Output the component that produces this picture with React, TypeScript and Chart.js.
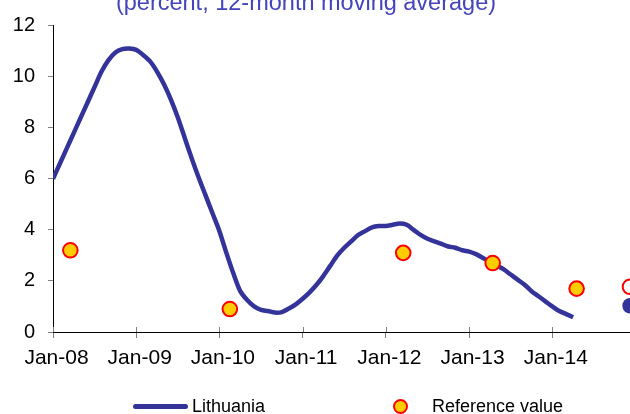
import React, { useEffect, useRef } from 'react';
import { Chart, registerables } from 'chart.js';

Chart.register(...registerables);

const FONT = "'Liberation Sans', Arial, Helvetica, sans-serif";

// ---- Data ----
const TITLE = '(percent, 12-month moving average)';
const X_TICK_LABELS = ['Jan-08', 'Jan-09', 'Jan-10', 'Jan-11', 'Jan-12', 'Jan-13', 'Jan-14'];
const MONTHS_PER_TICK = 12;
const X_MAX_MONTHS = 83.2; // axis extends to ~Dec-14 (months since Jan-08)
const Y_MIN = 0;
const Y_MAX = 12;
const Y_STEP = 2;

const LITHUANIA_LABEL = 'Lithuania';
// monthly values from Jan-08 to Apr-14
const LITHUANIA = [
  6.0, 6.6, 7.2, 7.8, 8.4, 9.0, 9.6, 10.2, 10.65, 10.95, 11.08, 11.1,
  11.05, 10.85, 10.6, 10.2, 9.7, 9.1, 8.4, 7.6, 6.8, 6.05, 5.35, 4.65,
  3.95, 3.1, 2.3, 1.6, 1.25, 1.0, 0.87, 0.82, 0.76, 0.78, 0.92, 1.08,
  1.3, 1.55, 1.85, 2.2, 2.6, 3.0, 3.3, 3.55, 3.8, 3.95, 4.1, 4.15,
  4.15, 4.2, 4.25, 4.2, 4.0, 3.8, 3.65, 3.55, 3.45, 3.35, 3.3, 3.2,
  3.15, 3.05, 2.9, 2.75, 2.6, 2.45, 2.25, 2.05, 1.85, 1.6, 1.4, 1.2,
  1.0, 0.82, 0.7, 0.58,
];

const REF_LABEL = 'Reference value';
const REF_MONTHS = [2.5, 25.5, 50.5, 63.4, 75.5]; // months since Jan-08
const REF_VALUES = [3.2, 0.9, 3.1, 2.7, 1.7];

// markers sitting on the right edge of the plot
const EDGE_REF_VALUE = 1.77;
const EDGE_LITH_VALUE = 1.03;

// ---- Styles ----
const NAVY = '#333399';
const TITLE_COLOR = '#4444BB';
const YELLOW = '#FFCC00';
const RED = '#FF0000';
const TICK_GRAY = '#808080';

const crossTicks = {
  id: 'crossTicks',
  beforeDatasetsDraw(chart: any) {
    const { ctx, scales, chartArea } = chart;
    const x = scales.x;
    ctx.save();
    ctx.strokeStyle = TICK_GRAY;
    ctx.lineWidth = 1;
    x.ticks.forEach((t: any) => {
      const px = Math.round(x.getPixelForValue(t.value)) + 0.5;
      ctx.beginPath();
      ctx.moveTo(px, chartArea.bottom - 5);
      ctx.lineTo(px, chartArea.bottom);
      ctx.stroke();
    });
    ctx.restore();
  },
};

export default function App() {
  const canvasRef = useRef<HTMLCanvasElement>(null);

  useEffect(() => {
    document.body.style.margin = '0';
    const lithData = LITHUANIA.map((v, i) => ({ x: i, y: v }));
    const refData = REF_MONTHS.map((m, i) => ({ x: m, y: REF_VALUES[i] }));

    const chart = new Chart(canvasRef.current!, {
      type: 'line',
      data: {
        datasets: [
          {
            type: 'scatter',
            label: REF_LABEL,
            data: refData,
            showLine: false,
            pointRadius: 7.3,
            pointBorderWidth: 2,
            backgroundColor: YELLOW,
            borderColor: RED,
            order: 0,
          } as any,
          {
            type: 'scatter',
            label: 'edge-ref',
            data: [{ x: X_MAX_MONTHS, y: EDGE_REF_VALUE }],
            showLine: false,
            pointRadius: 7.3,
            pointBorderWidth: 2,
            backgroundColor: '#FFFFFF',
            borderColor: RED,
            clip: false,
            order: 0,
          } as any,
          {
            type: 'scatter',
            label: 'edge-lith',
            data: [{ x: X_MAX_MONTHS, y: EDGE_LITH_VALUE }],
            showLine: false,
            pointRadius: 7.7,
            pointBorderWidth: 0,
            backgroundColor: NAVY,
            borderColor: NAVY,
            clip: false,
            order: 0,
          } as any,
          {
            type: 'line',
            label: LITHUANIA_LABEL,
            data: lithData,
            borderColor: NAVY,
            backgroundColor: NAVY,
            borderWidth: 4.5,
            pointRadius: 0,
            tension: 0.3,
            fill: false,
            order: 1,
          } as any,
        ],
      },
      options: {
        animation: false,
        responsive: false,
        events: [],
        layout: { autoPadding: false, padding: { top: 25.6, left: 0, right: 0, bottom: 37 } },
        plugins: {
          legend: { display: false },
          tooltip: { enabled: false },
          title: { display: false },
        },
        scales: {
          x: {
            type: 'linear',
            min: 0,
            max: X_MAX_MONTHS,
            afterFit: (s: any) => {
              s.height = 45;
            },
            grid: {
              display: true,
              drawOnChartArea: false,
              drawTicks: true,
              tickLength: 6,
              color: TICK_GRAY,
              lineWidth: 1,
            },
            border: { display: true, color: '#000000', width: 1 },
            ticks: {
              stepSize: MONTHS_PER_TICK,
              includeBounds: false,
              autoSkip: false,
              maxRotation: 0,
              padding: 8,
              labelOffset: 3.5,
              color: '#000000',
              font: { family: FONT, size: 21 },
              callback: (v: any) => X_TICK_LABELS[Math.round(Number(v) / MONTHS_PER_TICK)] ?? '',
            },
          },
          y: {
            min: Y_MIN,
            max: Y_MAX,
            afterFit: (s: any) => {
              s.width = 53;
            },
            grid: {
              display: true,
              drawOnChartArea: false,
              drawTicks: true,
              tickLength: 5,
              color: TICK_GRAY,
              lineWidth: 1,
            },
            border: { display: true, color: '#000000', width: 1 },
            ticks: {
              stepSize: Y_STEP,
              padding: 13,
              color: '#000000',
              font: { family: FONT, size: 20 },
            },
          },
        },
      },
      plugins: [crossTicks],
    } as any);

    return () => chart.destroy();
  }, []);

  const textStyle: React.CSSProperties = {
    position: 'absolute',
    top: 396,
    fontSize: 18,
    lineHeight: '20px',
    color: '#000',
    whiteSpace: 'nowrap',
    fontFamily: FONT,
  };

  return (
    <div style={{ position: 'relative', width: 630, height: 414, overflow: 'hidden' }}>
      <canvas ref={canvasRef} width={630} height={414} style={{ display: 'block' }} />
      <div
        style={{
          position: 'absolute',
          left: 106,
          width: 400,
          top: -11.3,
          textAlign: 'center',
          fontSize: 23.5,
          lineHeight: '27px',
          color: TITLE_COLOR,
          whiteSpace: 'nowrap',
          fontFamily: FONT,
        }}
      >
        {TITLE}
      </div>
      <div
        style={{
          position: 'absolute',
          left: 133,
          top: 403.5,
          width: 55,
          height: 5,
          borderRadius: 2.5,
          background: NAVY,
        }}
      />
      <div style={{ ...textStyle, left: 192 }}>{LITHUANIA_LABEL}</div>
      <div
        style={{
          position: 'absolute',
          left: 392.5,
          top: 398.5,
          width: 15,
          height: 15,
          boxSizing: 'border-box',
          borderRadius: '50%',
          border: `2px solid ${RED}`,
          background: YELLOW,
        }}
      />
      <div style={{ ...textStyle, left: 432 }}>{REF_LABEL}</div>
    </div>
  );
}
